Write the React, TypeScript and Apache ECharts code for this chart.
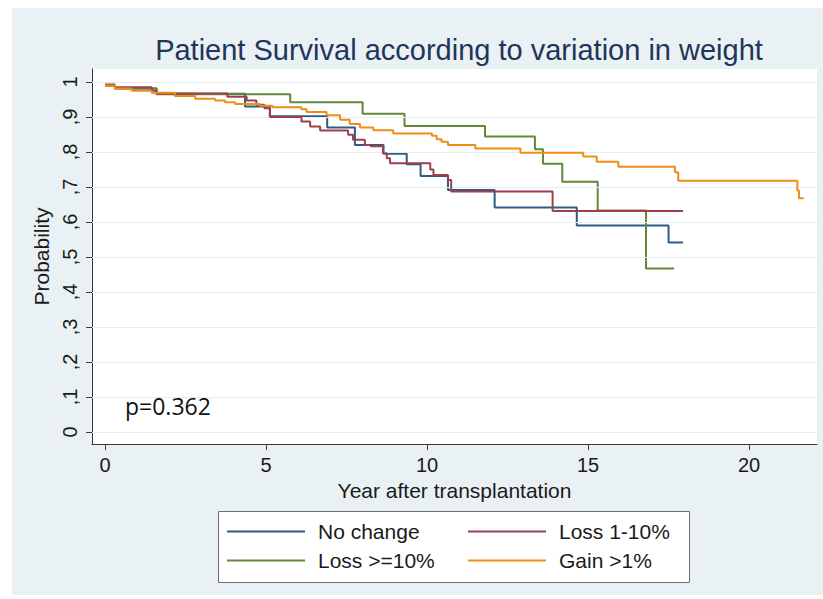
import React, { useEffect, useRef } from "react";
import * as echarts from "echarts";

const chartTitle = "Patient Survival according to variation in weight";
const xAxisTitle = "Year after transplantation";
const yAxisTitle = "Probability";
const pValueText = "p=0.362";

const seriesNames = ["No change", "Loss 1-10%", "Loss >=10%", "Gain >1%"];
const seriesColors = ["#2d5c88", "#9e3f4d", "#628739", "#ef8d17"];
const seriesLayer = [3, 5, 4, 6];

const noChangeYears = [0, 0.31, 1.6, 4.35, 5.12, 6.9, 7.76, 8.65, 9.37, 9.8, 10.65, 12.1, 14.65, 17.5, 17.95];
const noChangeSurv = [0.99, 0.981, 0.966, 0.93, 0.902, 0.87, 0.82, 0.795, 0.765, 0.731, 0.691, 0.641, 0.59, 0.541, 0.541];

const loss1to10Years = [0, 0.3, 1.45, 1.6, 3.8, 4.4, 4.7, 4.95, 5.12, 6.1, 6.37, 6.68, 7.55, 7.7, 8.07, 8.25, 8.63, 8.75, 8.85, 10.1, 10.2, 10.65, 10.75, 13.9, 17.95];
const loss1to10Surv = [0.993, 0.985, 0.975, 0.967, 0.958, 0.947, 0.935, 0.925, 0.9, 0.887, 0.873, 0.861, 0.849, 0.835, 0.82, 0.816, 0.796, 0.782, 0.768, 0.75, 0.734, 0.72, 0.687, 0.631, 0.631];

const loss10PlusYears = [0, 0.31, 1.6, 5.75, 8.0, 9.3, 11.8, 13.35, 13.6, 14.2, 15.3, 16.8, 17.67];
const loss10PlusSurv = [0.99, 0.981, 0.965, 0.942, 0.909, 0.874, 0.844, 0.808, 0.766, 0.715, 0.633, 0.467, 0.467];

const gainYears = [0, 0.31, 0.83, 1.45, 2.17, 2.8, 3.42, 3.73, 4.04, 4.8, 5.2, 6.1, 6.26, 6.88, 7.3, 7.6, 7.92, 8.33, 8.95, 10.15, 10.3, 10.45, 10.65, 11.5, 12.9, 14.85, 15.27, 15.94, 17.7, 17.8, 21.5, 21.55, 21.7];
const gainSurv = [0.99, 0.981, 0.975, 0.969, 0.96, 0.952, 0.947, 0.942, 0.937, 0.932, 0.928, 0.922, 0.914, 0.905, 0.892, 0.88, 0.87, 0.862, 0.853, 0.846, 0.836, 0.829, 0.82, 0.81, 0.798, 0.787, 0.772, 0.758, 0.742, 0.718, 0.69, 0.668, 0.668];

const xTicks = [0, 5, 10, 15, 20];
const yTicks = [0, 0.1, 0.2, 0.3, 0.4, 0.5, 0.6, 0.7, 0.8, 0.9, 1];
const yTickLabels = ["0", ",1", ",2", ",3", ",4", ",5", ",6", ",7", ",8", ",9", "1"];

const FONT = "Liberation Sans, Arial, sans-serif";

function pairs(xs: number[], ys: number[]) {
  return xs.map((x, i) => [x, ys[i]]);
}

export default function App() {
  const ref = useRef<HTMLDivElement>(null);
  useEffect(() => {
    document.body.style.margin = "0";
    const chart = echarts.init(ref.current!, null, { renderer: "svg" });
    const groups = [
      pairs(noChangeYears, noChangeSurv),
      pairs(loss1to10Years, loss1to10Surv),
      pairs(loss10PlusYears, loss10PlusSurv),
      pairs(gainYears, gainSurv),
    ];
    const axisColor = "#3a3a3a";
    chart.setOption({
      animation: false,
      backgroundColor: "#ffffff",
      title: {
        text: chartTitle,
        left: 454,
        top: 30,
        textAlign: "center",
        textStyle: { fontSize: 29, fontWeight: "normal", color: "#1f3559", fontFamily: FONT },
      },
      graphic: [
        {
          type: "rect",
          z: -100,
          silent: true,
          shape: { x: 12, y: 8, width: 811, height: 587 },
          style: { fill: "#e9f1f4" },
        },
        {
          type: "rect",
          z: 1,
          silent: true,
          shape: { x: 218.5, y: 511.5, width: 471, height: 71 },
          style: { fill: "#ffffff", stroke: "#6e6e6e", lineWidth: 1 },
        },
        {
          type: "text",
          z: 10,
          left: 125,
          top: 394,
          style: { text: pValueText, fontSize: 23, fill: "#111111", fontFamily: "Open Sans, sans-serif" },
        },
      ],
      legend: {
        data: seriesNames,
        left: 227,
        top: 517,
        width: 490,
        padding: 0,
        itemGap: 0,
        itemWidth: 78,
        itemHeight: 14,
        orient: "horizontal",
        icon: "path://M0,0H78V2H0Z",
        textStyle: {
          fontSize: 21,
          color: "#1a1a1a",
          fontFamily: FONT,
          width: 150,
          lineHeight: 29,
          padding: [0, 0, 0, 8],
        },
      },
      grid: {
        left: 92,
        right: 6,
        top: 69,
        bottom: 155,
        show: true,
        backgroundColor: "#ffffff",
        borderWidth: 0,
      },
      xAxis: {
        type: "value",
        min: -0.404,
        max: 22.11,
        name: xAxisTitle,
        nameLocation: "middle",
        nameGap: 34,
        nameTextStyle: { fontSize: 21, color: "#1a1a1a", fontFamily: FONT },
        axisLine: { show: true, onZero: false, lineStyle: { color: axisColor, width: 1 } },
        axisTick: { show: true, customValues: xTicks, length: 6, lineStyle: { color: axisColor } },
        axisLabel: { customValues: xTicks, margin: 11, fontSize: 20, color: "#1a1a1a", fontFamily: FONT },
        splitLine: { show: false },
      },
      yAxis: {
        type: "value",
        min: -0.0343,
        max: 1.037,
        name: yAxisTitle,
        nameLocation: "middle",
        nameRotate: 90,
        nameGap: 38,
        nameTextStyle: { fontSize: 21, color: "#1a1a1a", fontFamily: FONT },
        axisLine: { show: true, onZero: false, lineStyle: { color: axisColor, width: 1 } },
        axisTick: { show: true, customValues: yTicks, length: 6, lineStyle: { color: axisColor } },
        axisLabel: {
          customValues: yTicks,
          rotate: 90,
          margin: 12,
          fontSize: 20,
          color: "#1a1a1a",
          fontFamily: FONT,
          formatter: (v: number) => {
            let best = 0;
            yTicks.forEach((t, i) => {
              if (Math.abs(t - v) < Math.abs(yTicks[best] - v)) best = i;
            });
            return yTickLabels[best];
          },
        },
        splitLine: { show: false },
      },
      series: [
        {
          type: "line",
          name: "grid",
          data: [],
          z: 1,
          silent: true,
          markLine: {
            silent: true,
            symbol: "none",
            label: { show: false },
            lineStyle: { color: "#e4edf0", width: 1.2, type: "solid" },
            data: yTicks.map((v) => ({ yAxis: v })),
          },
        },
        ...groups.map((d, i) => ({
          type: "line",
          name: seriesNames[i],
          data: d,
          step: "end",
          symbol: "none",
          showSymbol: false,
          z: seriesLayer[i],
          color: seriesColors[i],
          lineStyle: { color: seriesColors[i], width: 2 },
        })),
      ],
    });
    return () => chart.dispose();
  }, []);
  return <div ref={ref} style={{ width: 823, height: 599 }} />;
}
